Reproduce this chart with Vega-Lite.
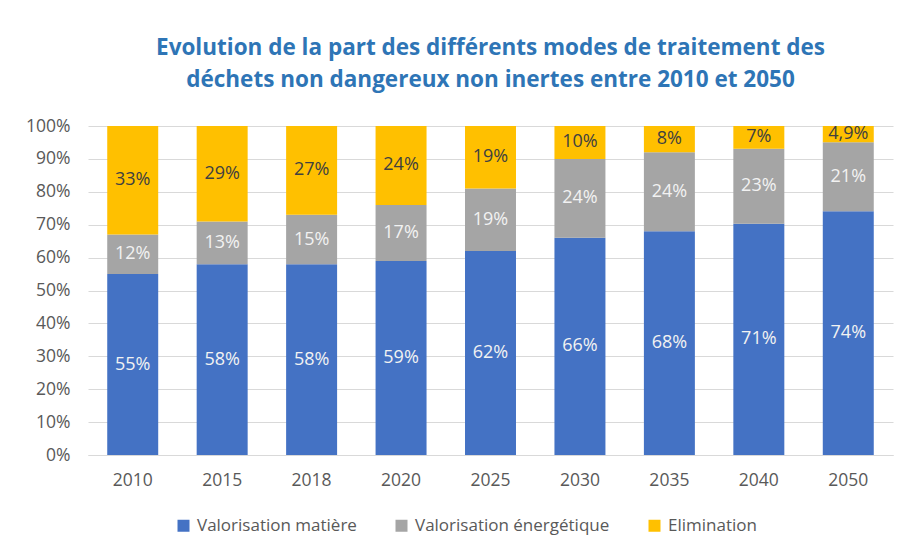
{
  "$schema": "https://vega.github.io/schema/vega-lite/v6.json",
  "width": 805,
  "height": 329,
  "autosize": {"type": "none"},
  "padding": {"left": 88, "top": 126, "right": 14, "bottom": 96},
  "background": "white",
  "title": {
    "text": ["Evolution de la part des différents modes de traitement des", "déchets non dangereux non inertes entre 2010 et 2050"],
    "font": "Open Sans",
    "fontSize": 22.5,
    "fontWeight": "bold",
    "color": "#2E75B6",
    "lineHeight": 32,
    "offset": 26,
    "anchor": "middle"
  },
  "data": {
    "values": [
      {"annee": "2010", "mode": "Valorisation matière", "ordre": 1, "valeur": 55, "label": "55%"},
      {"annee": "2010", "mode": "Valorisation énergétique", "ordre": 2, "valeur": 12, "label": "12%"},
      {"annee": "2010", "mode": "Elimination", "ordre": 3, "valeur": 33, "label": "33%"},
      {"annee": "2015", "mode": "Valorisation matière", "ordre": 1, "valeur": 58, "label": "58%"},
      {"annee": "2015", "mode": "Valorisation énergétique", "ordre": 2, "valeur": 13, "label": "13%"},
      {"annee": "2015", "mode": "Elimination", "ordre": 3, "valeur": 29, "label": "29%"},
      {"annee": "2018", "mode": "Valorisation matière", "ordre": 1, "valeur": 58, "label": "58%"},
      {"annee": "2018", "mode": "Valorisation énergétique", "ordre": 2, "valeur": 15, "label": "15%"},
      {"annee": "2018", "mode": "Elimination", "ordre": 3, "valeur": 27, "label": "27%"},
      {"annee": "2020", "mode": "Valorisation matière", "ordre": 1, "valeur": 59, "label": "59%"},
      {"annee": "2020", "mode": "Valorisation énergétique", "ordre": 2, "valeur": 17, "label": "17%"},
      {"annee": "2020", "mode": "Elimination", "ordre": 3, "valeur": 24, "label": "24%"},
      {"annee": "2025", "mode": "Valorisation matière", "ordre": 1, "valeur": 62, "label": "62%"},
      {"annee": "2025", "mode": "Valorisation énergétique", "ordre": 2, "valeur": 19, "label": "19%"},
      {"annee": "2025", "mode": "Elimination", "ordre": 3, "valeur": 19, "label": "19%"},
      {"annee": "2030", "mode": "Valorisation matière", "ordre": 1, "valeur": 66, "label": "66%"},
      {"annee": "2030", "mode": "Valorisation énergétique", "ordre": 2, "valeur": 24, "label": "24%"},
      {"annee": "2030", "mode": "Elimination", "ordre": 3, "valeur": 10, "label": "10%"},
      {"annee": "2035", "mode": "Valorisation matière", "ordre": 1, "valeur": 68, "label": "68%"},
      {"annee": "2035", "mode": "Valorisation énergétique", "ordre": 2, "valeur": 24, "label": "24%"},
      {"annee": "2035", "mode": "Elimination", "ordre": 3, "valeur": 8, "label": "8%"},
      {"annee": "2040", "mode": "Valorisation matière", "ordre": 1, "valeur": 71, "label": "71%"},
      {"annee": "2040", "mode": "Valorisation énergétique", "ordre": 2, "valeur": 23, "label": "23%"},
      {"annee": "2040", "mode": "Elimination", "ordre": 3, "valeur": 7, "label": "7%"},
      {"annee": "2050", "mode": "Valorisation matière", "ordre": 1, "valeur": 74, "label": "74%"},
      {"annee": "2050", "mode": "Valorisation énergétique", "ordre": 2, "valeur": 21, "label": "21%"},
      {"annee": "2050", "mode": "Elimination", "ordre": 3, "valeur": 4.9, "label": "4,9%"}
    ]
  },
  "transform": [
    {
      "stack": "valeur",
      "groupby": ["annee"],
      "sort": [{"field": "ordre", "order": "ascending"}],
      "offset": "normalize",
      "as": ["y0", "y1"]
    },
    {"calculate": "(datum.y0 + datum.y1) / 2", "as": "ymid"}
  ],
  "encoding": {
    "x": {
      "field": "annee",
      "type": "nominal",
      "scale": {"paddingInner": 0.43, "paddingOuter": 0.215},
      "axis": {
        "title": null,
        "labelAngle": 0,
        "ticks": false,
        "domain": true,
        "domainColor": "#D9D9D9",
        "labelFont": "Open Sans",
        "labelFontSize": 17.5,
        "labelColor": "#595959",
        "labelPadding": 16
      }
    }
  },
  "layer": [
    {
      "mark": {"type": "bar"},
      "encoding": {
        "y": {
          "field": "y1",
          "type": "quantitative",
          "scale": {"domain": [0, 1]},
          "axis": {
            "title": null,
            "format": ".0%",
            "values": [0, 0.1, 0.2, 0.3, 0.4, 0.5, 0.6, 0.7, 0.8, 0.9, 1],
            "ticks": false,
            "domain": false,
            "grid": true,
            "gridColor": "#D9D9D9",
            "labelOverlap": false,
            "labelFont": "Open Sans",
            "labelFontSize": 17.5,
            "labelColor": "#595959",
            "labelPadding": 18
          }
        },
        "y2": {"field": "y0"},
        "color": {
          "field": "mode",
          "type": "nominal",
          "scale": {
            "domain": ["Valorisation matière", "Valorisation énergétique", "Elimination"],
            "range": ["#4472C4", "#A5A5A5", "#FFC000"]
          },
          "legend": {
            "title": null,
            "orient": "none",
            "direction": "horizontal",
            "legendX": 87,
            "legendY": 391,
            "symbolType": "square",
            "symbolSize": 144,
            "symbolStrokeWidth": 0,
            "labelFont": "Open Sans",
            "labelFontSize": 17,
            "labelColor": "#595959",
            "labelOffset": 5,
            "labelLimit": 400,
            "columnPadding": 36
          }
        }
      }
    },
    {
      "mark": {"type": "text", "font": "Open Sans", "fontSize": 18, "baseline": "middle"},
      "encoding": {
        "y": {
          "field": "ymid",
          "type": "quantitative",
          "axis": {
            "title": null,
            "format": ".0%",
            "values": [0, 0.1, 0.2, 0.3, 0.4, 0.5, 0.6, 0.7, 0.8, 0.9, 1],
            "ticks": false,
            "domain": false,
            "grid": true,
            "gridColor": "#D9D9D9",
            "labelOverlap": false,
            "labelFont": "Open Sans",
            "labelFontSize": 17.5,
            "labelColor": "#595959",
            "labelPadding": 18
          }
        },
        "text": {"field": "label"},
        "color": {
          "condition": {"test": "datum.mode === 'Elimination'", "value": "#404040"},
          "value": "#F2F2F2"
        }
      }
    }
  ],
  "config": {"view": {"stroke": null}}
}
